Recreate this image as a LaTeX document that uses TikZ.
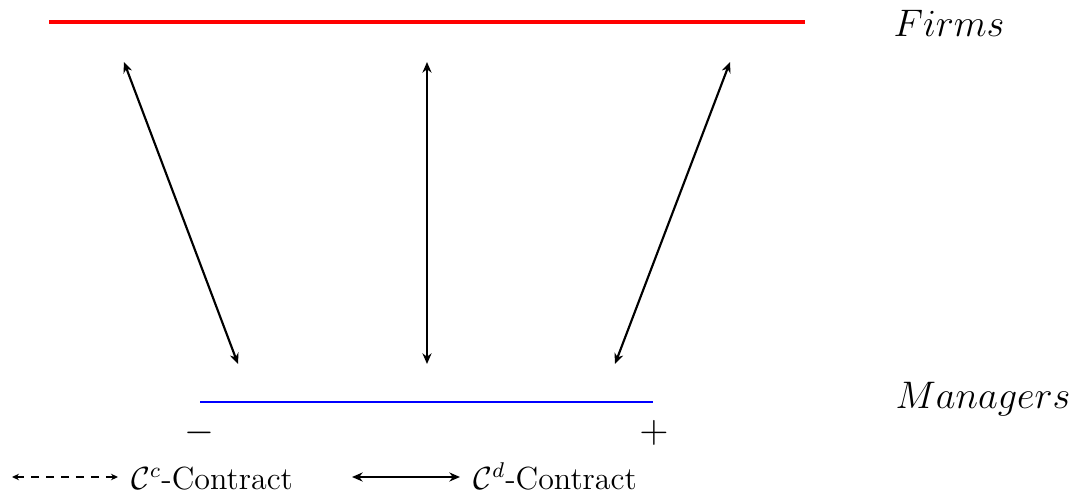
\documentclass[tikz,border=0pt]{standalone}
\usetikzlibrary{arrows.meta}
\begin{document}
\begin{tikzpicture}[x=0.375pt,y=-0.375pt,
  link/.style={line width=0.8pt,{Stealth[length=4pt,width=3.4pt]}-{Stealth[length=4pt,width=3.4pt]}},
  legdash/.style={line width=0.5pt,dash pattern=on 3pt off 2.6pt,{Stealth[length=2.6pt,width=2.4pt]}-{Stealth[length=2.6pt,width=2.4pt]}},
  lbl/.style={font=\Large,inner sep=0pt},
  leg/.style={font=\fontsize{12}{15}\selectfont,inner sep=0pt,anchor=base west}]
\useasboundingbox (0,0) rectangle (1086,503);
% top and bottom lines
\coordinate (fa) at (49,22);
\coordinate (fb) at (805,22);
\coordinate (ma) at (200,402);
\coordinate (mb) at (653,402);
\draw[red,line width=1.25pt] (fa) -- (fb);
\draw[blue,line width=0.75pt] (ma) -- (mb);
\node[lbl,anchor=base west] (firms) at (893,37) {$Firms$};
\node[lbl,anchor=base west,font=\fontsize{13.6}{17}\selectfont] (managers) at (895,408) {$Managers$};
\node[lbl] (minus) at (199.5,433) {$-$};
\node[lbl] (plus) at (654,433) {$+$};
% arrows
\coordinate (t1) at (124,62);
\coordinate (b1) at (238,364);
\coordinate (t2) at (427,62);
\coordinate (b2) at (427,364);
\coordinate (t3) at (730,62);
\coordinate (b3) at (615,364);
\draw[link] (t1) -- (b1);
\draw[link] (t2) -- (b2);
\draw[link] (t3) -- (b3);
% legend
\coordinate (l1a) at (12,477);
\coordinate (l1b) at (118,477);
\coordinate (l2a) at (352,477);
\coordinate (l2b) at (460,477);
\draw[legdash] (l1a) -- (l1b);
\draw[link] (l2a) -- (l2b);
\node[leg] (cc) at (131,489) {{\large$\mathcal{C}^c$}-Contract};
\node[leg] (cd) at (473,489) {{\large$\mathcal{C}^d$}-Contract};
\end{tikzpicture}
\end{document}
